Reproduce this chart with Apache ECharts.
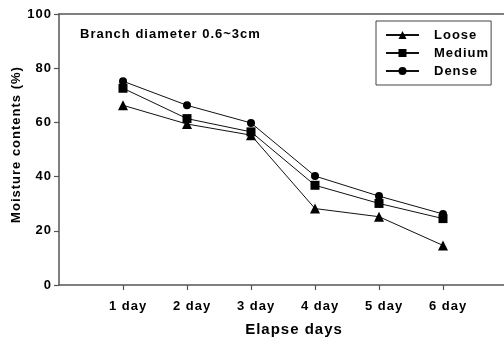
<!DOCTYPE html>
<html>
<head>
<meta charset="utf-8">
<script src="https://cdn.jsdelivr.net/npm/echarts@6/dist/echarts.min.js"></script>
<style>
  html, body { margin: 0; padding: 0; background: #fff; }
  #chart { width: 504px; height: 340px; }
</style>
</head>
<body>
<div id="chart"></div>
<script>
// Elapsed days (x positions) and their tick labels
const days = [1, 2, 3, 4, 5, 6];
const dayLabels = ['1 day', '2 day', '3 day', '4 day', '5 day', '6 day'];

// Moisture content (%) per packing density
const loose  = [66.3, 59.4, 55.3, 28.2, 25.2, 14.6];
const medium = [72.6, 61.4, 56.5, 36.8, 30.1, 24.5];
const dense  = [75.2, 66.3, 59.8, 40.2, 32.8, 26.2];

const yTicks = [0, 20, 40, 60, 80, 100];

const FONT = '"Liberation Sans", Arial, sans-serif';
const AXIS_COLOR = '#555';
const TRACKING = '1px';

// All text is drawn with slightly open letter spacing; apply it to every
// canvas text call and to text measurement so layout accounts for it.
(function () {
  const proto = CanvasRenderingContext2D.prototype;
  ['fillText', 'strokeText', 'measureText'].forEach(fn => {
    const orig = proto[fn];
    proto[fn] = function () {
      this.letterSpacing = TRACKING;
      return orig.apply(this, arguments);
    };
  });
})();

function pairs(vals) { return days.map((d, i) => [d, vals[i]]); }

function lineSeries(name, vals, symbol, size) {
  return {
    name: name,
    type: 'line',
    data: pairs(vals),
    symbol: symbol,
    symbolSize: size,
    showSymbol: true,
    lineStyle: { color: '#111', width: 1 },
    itemStyle: { color: '#000' },
    emphasis: { disabled: true },
    animation: false
  };
}

const chart = echarts.init(document.getElementById('chart'), null, { renderer: 'canvas' });

chart.setOption({
  backgroundColor: '#fff',
  animation: false,
  grid: { left: 59, top: 14, width: 448, height: 271, containLabel: false, outerBoundsMode: 'none' },
  title: {
    text: 'Branch diameter 0.6~3cm',
    left: 80, top: 27,
    padding: 0,
    textStyle: { fontFamily: FONT, fontSize: 13, fontWeight: 'bold', color: '#000' }
  },
  legend: {
    orient: 'vertical',
    left: 376, top: 21,
    padding: [7, 2, 7, 9],
    itemGap: 4,
    itemWidth: 33,
    itemHeight: 10,
    borderColor: '#444',
    borderWidth: 1,
    borderRadius: 0,
    textStyle: { fontFamily: FONT, fontSize: 13, fontWeight: 'bold', color: '#000', padding: [0, 0, 0, 10] },
    data: ['Loose', 'Medium', 'Dense']
  },
  xAxis: [{
    type: 'value',
    min: 0, max: 7, interval: 1,
    name: 'Elapse days',
    nameLocation: 'middle',
    nameGap: 37,
    nameMoveOverlap: false,
    nameTextStyle: { fontFamily: FONT, fontSize: 15, fontWeight: 'bold', color: '#000', padding: [0, 0, 0, 22] },
    axisLine: { show: true, lineStyle: { color: AXIS_COLOR, width: 1.5 } },
    axisTick: { show: true, length: 5, inside: false, lineStyle: { color: AXIS_COLOR, width: 1.2 },
      customValues: days },
    axisLabel: {
      fontFamily: FONT, fontSize: 13, fontWeight: 'bold', color: '#000', margin: 14,
      padding: [0, 0, 0, 10],
      customValues: days,
      formatter: v => dayLabels[days.indexOf(v)] || ''
    },
    splitLine: { show: false }
  }, {
    type: 'value',
    position: 'top',
    min: 0, max: 7,
    axisLine: { show: true, lineStyle: { color: AXIS_COLOR, width: 1.5 } },
    axisTick: { show: false },
    axisLabel: { show: false },
    splitLine: { show: false }
  }],
  yAxis: {
    type: 'value',
    min: 0, max: 100, interval: 20,
    name: 'Moisture contents (%)',
    nameLocation: 'middle',
    nameGap: 36,
    nameMoveOverlap: false,
    nameTextStyle: { fontFamily: FONT, fontSize: 13, fontWeight: 'bold', color: '#000', padding: [0, 0, 0, 10] },
    axisLine: { show: true, lineStyle: { color: AXIS_COLOR, width: 1.5 } },
    axisTick: { show: true, length: 5, inside: false, lineStyle: { color: AXIS_COLOR, width: 1.2 } },
    axisLabel: {
      fontFamily: FONT, fontSize: 13, fontWeight: 'bold', color: '#000', margin: 7,
      formatter: v => yTicks.includes(v) ? String(v) : ''
    },
    splitLine: { show: false }
  },
  series: [
    lineSeries('Loose', loose, 'triangle', 10),
    lineSeries('Medium', medium, 'rect', 9),
    lineSeries('Dense', dense, 'circle', 8)
  ]
});
</script>
</body>
</html>
